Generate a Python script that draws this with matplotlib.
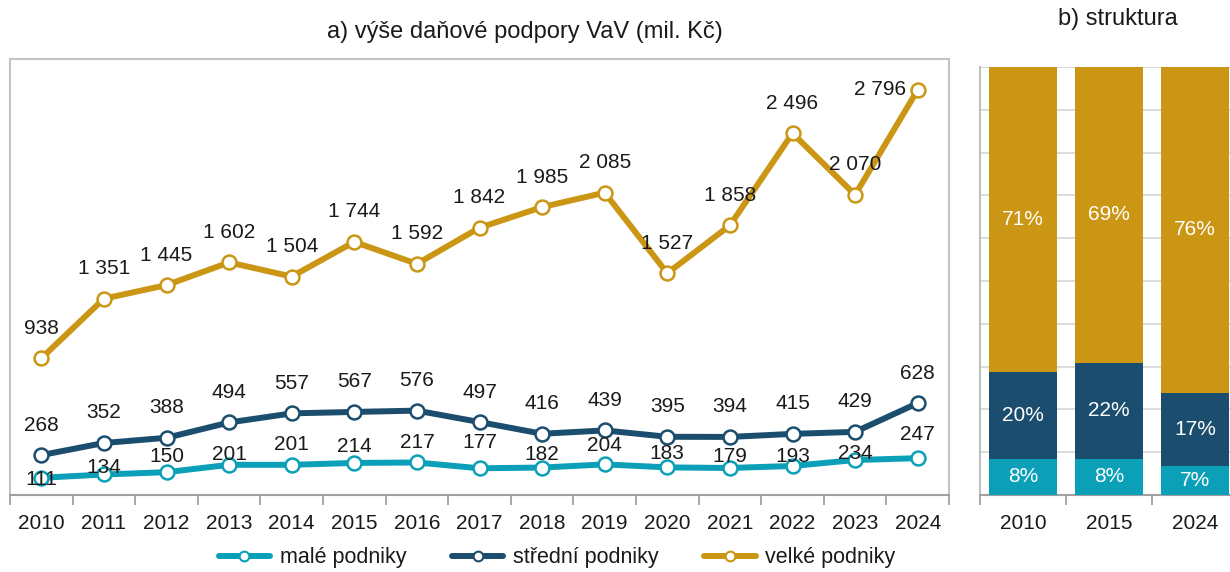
import matplotlib
matplotlib.use("Agg")
import matplotlib.pyplot as plt
import numpy as np

plt.rcParams['font.family'] = ['Liberation Sans', 'DejaVu Sans']

years = ["2010", "2011", "2012", "2013", "2014", "2015", "2016", "2017",
         "2018", "2019", "2020", "2021", "2022", "2023", "2024"]
male = [111, 134, 150, 201, 201, 214, 217, 177, 182, 204, 183, 179, 193, 234, 247]
stredni = [268, 352, 388, 494, 557, 567, 576, 497, 416, 439, 395, 394, 415, 429, 628]
velke = [938, 1351, 1445, 1602, 1504, 1744, 1592, 1842, 1985, 2085, 1527, 1858, 2496, 2070, 2796]
series_names = ["malé podniky", "střední podniky", "velké podniky"]
struct_years = ["2010", "2015", "2024"]

C_TEAL = "#0BA0B8"
C_NAVY = "#1B4E6E"
C_GOLD = "#CA9614"
FRAME = "#C4C4C4"
TXT = "#1A1A1A"
FS = 15
FS_T = 17

W, H = 1230, 572
fig = plt.figure(figsize=(W / 100, H / 100), dpi=100)

def fr(x0, y_top, x1, y_bot):
    return [x0 / W, 1 - y_bot / H, (x1 - x0) / W, (y_bot - y_top) / H]

# ---------------- panel a ----------------
ax = fig.add_axes(fr(10, 59, 949, 495))
x = np.arange(len(years))
for vals, col in [(male, C_TEAL), (stredni, C_NAVY), (velke, C_GOLD)]:
    ax.plot(x, vals, color=col, lw=4.3, marker='o', ms=10, mfc='white',
            mec=col, mew=1.8, solid_capstyle='round', zorder=3)

ax.set_xlim(-0.5, len(years) - 0.5)
ax.set_ylim(-8, 3010)
ax.set_yticks([])
ax.set_xticks(x)
ax.set_xticklabels(years, fontsize=FS, color=TXT)
ax.set_xticks(np.arange(-0.5, len(years), 1.0), minor=True)
ax.tick_params(axis='x', which='major', length=0, pad=14)
ax.tick_params(axis='x', which='minor', length=7, width=1.3, color="#A0A0A0")
for s in ax.spines.values():
    s.set_color(FRAME)
    s.set_linewidth(1.5)
ax.spines['bottom'].set_color("#A0A0A0")

def fmt(v):
    return f"{v:,}".replace(",", " ")

PX = 0.72  # points per pixel
teal_off = [2, -7, -16, -10, -20, -16, -20, -26, -13, -19, -14, -11, -9, -7, -24]
for i, v in enumerate(male):
    ax.annotate(fmt(v), (x[i], v), xytext=(0, -teal_off[i] * PX), textcoords='offset points',
                ha='center', va='center', fontsize=FS, color=TXT, zorder=5)
for i, v in enumerate(stredni):
    ax.annotate(fmt(v), (x[i], v), xytext=(0, 30 * PX), textcoords='offset points',
                ha='center', va='center', fontsize=FS, color=TXT, zorder=5)
for i, v in enumerate(velke):
    if i == len(velke) - 1:
        ax.annotate(fmt(v), (x[i], v), xytext=(-38 * PX, 0), textcoords='offset points',
                    ha='center', va='center', fontsize=FS, color=TXT, zorder=5)
    else:
        ax.annotate(fmt(v), (x[i], v), xytext=(0, 30 * PX), textcoords='offset points',
                    ha='center', va='center', fontsize=FS, color=TXT, zorder=5)

fig.text(525 / W, 1 - 32 / H, "a) výše daňové podpory VaV (mil. Kč)", ha='center', va='center',
         fontsize=FS_T, color=TXT)

# ---------------- panel b ----------------
bx = fig.add_axes(fr(980, 67, 1238, 495))
idx = [years.index(y) for y in struct_years]
tot = np.array([male[i] + stredni[i] + velke[i] for i in idx], dtype=float)
sh_m = np.array([male[i] for i in idx]) / tot * 100
sh_s = np.array([stredni[i] for i in idx]) / tot * 100
sh_v = np.array([velke[i] for i in idx]) / tot * 100
bxp = np.arange(len(struct_years))
bw = 0.79
bx.bar(bxp, sh_m, bw, color=C_TEAL, zorder=3)
bx.bar(bxp, sh_s, bw, bottom=sh_m, color=C_NAVY, zorder=3)
bx.bar(bxp, sh_v, bw, bottom=sh_m + sh_s, color=C_GOLD, zorder=3)
for i in range(len(bxp)):
    bx.text(bxp[i], sh_m[i] / 2, f"{sh_m[i]:.0f}%", ha='center', va='center', color='white',
            fontsize=FS, zorder=4)
    bx.text(bxp[i], sh_m[i] + sh_s[i] / 2, f"{sh_s[i]:.0f}%", ha='center', va='center',
            color='white', fontsize=FS, zorder=4)
    bx.text(bxp[i], sh_m[i] + sh_s[i] + sh_v[i] / 2, f"{sh_v[i]:.0f}%", ha='center',
            va='center', color='white', fontsize=FS, zorder=4)
bx.set_xlim(-0.5, len(struct_years) - 0.5)
bx.set_ylim(0, 100)
bx.set_yticks(np.arange(0, 101, 10))
bx.yaxis.grid(True, color="#D9D9D9", lw=1.3, zorder=0)
bx.tick_params(axis='y', length=0, labelleft=False)
bx.set_xticks(bxp)
bx.set_xticklabels(struct_years, fontsize=FS, color=TXT)
bx.set_xticks(np.arange(-0.5, len(struct_years), 1.0), minor=True)
bx.tick_params(axis='x', which='major', length=0, pad=14)
bx.tick_params(axis='x', which='minor', length=7, width=1.3, color="#A0A0A0")
for k in ['top', 'right']:
    bx.spines[k].set_visible(False)
bx.spines['left'].set_color("#BFBFBF")
bx.spines['left'].set_linewidth(1.5)
bx.spines['bottom'].set_color("#A0A0A0")
bx.spines['bottom'].set_linewidth(1.5)

fig.text(1118 / W, 1 - 19 / H, "b) struktura", ha='center', va='center', fontsize=FS_T, color=TXT)

# ---------------- legend ----------------
handles = [plt.Line2D([], [], color=c, lw=4.3, marker='o', ms=7, mfc='white', mec=c, mew=1.5,
                      solid_capstyle='round') for c in (C_TEAL, C_NAVY, C_GOLD)]
fig.legend(handles, series_names, loc='center', bbox_to_anchor=(557 / W, 1 - 558 / H), ncol=3,
           frameon=False, fontsize=FS + 0.5, handlelength=2.4, handletextpad=0.45,
           columnspacing=2.1, labelcolor=TXT)

fig.savefig("out.png", dpi=100)
